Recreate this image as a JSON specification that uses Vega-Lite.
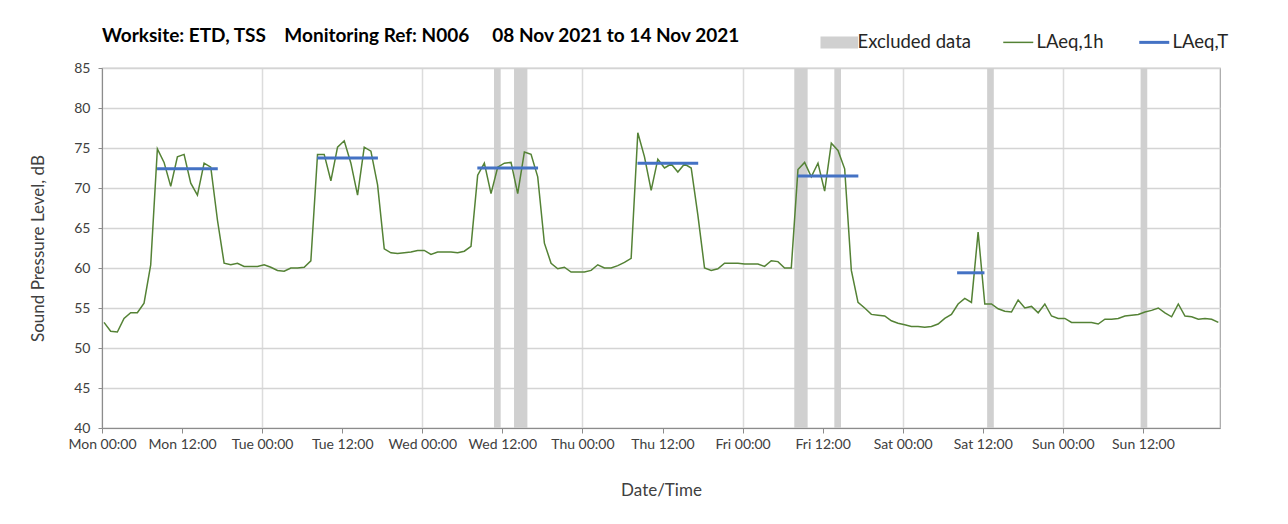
{
  "$schema": "https://vega.github.io/schema/vega-lite/v6.json",
  "autosize": "none",
  "width": 1118,
  "height": 360,
  "padding": {"left": 102, "top": 68, "right": 68, "bottom": 96},
  "background": "white",
  "config": {
    "font": "Lato",
    "view": {"stroke": "#a6a6a6", "strokeWidth": 1.2},
    "axis": {"labelFont": "Lato", "titleFont": "Lato", "labelColor": "#404040", "titleColor": "#404040", "titleFontWeight": "normal"}
  },
  "title": {
    "text": "Worksite: ETD, TSS\u00a0\u00a0\u00a0\u00a0Monitoring Ref: N006\u00a0\u00a0\u00a0\u00a0\u00a008 Nov 2021 to 14 Nov 2021",
    "anchor": "start",
    "frame": "group",
    "fontSize": 19,
    "fontWeight": "bold",
    "color": "#000000",
    "offset": 22,
    "dy": 35
  },
  "layer": [
    {
      "data": {"values": [
        {"start": 58.75, "end": 59.75},
        {"start": 61.75, "end": 63.75},
        {"start": 103.75, "end": 105.75},
        {"start": 109.75, "end": 110.75},
        {"start": 132.65, "end": 133.65},
        {"start": 155.65, "end": 156.65}
      ]},
      "mark": {"type": "rect"},
      "encoding": {
        "x": {"field": "start", "type": "quantitative",
          "title": "Date/Time",
          "scale": {"domain": [0, 167.55], "nice": false, "zero": false},
          "axis": {
            "values": [0, 12, 24, 36, 48, 60, 72, 84, 96, 108, 120, 132, 144, 156],
            "labelExpr": "['Mon','Tue','Wed','Thu','Fri','Sat','Sun','Mon'][floor(datum.value / 24)] + (datum.value % 24 == 0 ? ' 00:00' : ' 12:00')",
            "labelFontSize": 14,
            "labelPadding": 4,
            "labelFlush": false,
            "labelOverlap": false,
            "tickSize": 5,
            "tickColor": "#8c8c8c",
            "domainColor": "#8c8c8c",
            "grid": true,
            "gridColor": "#dcdcdc",
            "gridWidth": 1.5,
            "gridOpacity": {"condition": {"test": "datum.value % 24 == 0", "value": 1}, "value": 0},
            "titleFontSize": 17,
            "titleY": 62,
            "titleBaseline": "middle"
          }
        },
        "x2": {"field": "end"},
        "color": {
          "datum": "Excluded data",
          "type": "nominal",
          "scale": {"domain": ["Excluded data", "LAeq,1h", "LAeq,T"], "range": ["#d0d0d0", "#548235", "#4472c4"]},
          "legend": {
            "orient": "none",
            "legendX": 728,
            "legendY": -35,
            "direction": "horizontal",
            "title": null,
            "padding": 0,
            "symbolSize": 900,
            "labelOffset": 9,
            "columnPadding": 29,
            "labelFontSize": 18.5,
            "labelFont": "Lato",
            "labelColor": "#262626",
            "labelLimit": 300,
            "encode": {
              "symbols": {
                "update": {
                  "shape": {"signal": "datum.value === 'Excluded data' ? 'M-1.25,-0.4H1.25V0.4H-1.25Z' : 'stroke'"},
                  "fill": {"signal": "datum.value === 'Excluded data' ? '#d0d0d0' : 'transparent'"},
                  "stroke": {"signal": "datum.value === 'LAeq,T' ? '#4472c4' : (datum.value === 'LAeq,1h' ? '#548235' : '#d0d0d0')"},
                  "strokeWidth": {"signal": "datum.value === 'LAeq,T' ? 3 : (datum.value === 'LAeq,1h' ? 1.5 : 0)"},
                  "opacity": {"value": 1}
                }
              }
            }
          }
        }
      }
    },
    {
      "data": {"values": [
        {"h":0.3,"v":53.2},{"h":1.3,"v":52.1},{"h":2.3,"v":52.0},{"h":3.3,"v":53.7},{"h":4.3,"v":54.4},{"h":5.3,"v":54.4},{"h":6.3,"v":55.6},{"h":7.3,"v":60.4},{"h":8.3,"v":74.9},{"h":9.3,"v":73.2},{"h":10.3,"v":70.2},{"h":11.3,"v":73.9},{"h":12.3,"v":74.2},{"h":13.3,"v":70.6},{"h":14.3,"v":69.1},{"h":15.3,"v":73.1},{"h":16.3,"v":72.6},{"h":17.3,"v":66.0},{"h":18.3,"v":60.6},{"h":19.3,"v":60.4},{"h":20.3,"v":60.6},{"h":21.3,"v":60.2},{"h":22.3,"v":60.2},{"h":23.3,"v":60.2},
        {"h":24.3,"v":60.4},{"h":25.3,"v":60.1},{"h":26.3,"v":59.7},{"h":27.3,"v":59.6},{"h":28.3,"v":60.0},{"h":29.3,"v":60.0},{"h":30.3,"v":60.1},{"h":31.3,"v":60.9},{"h":32.3,"v":74.2},{"h":33.3,"v":74.2},{"h":34.3,"v":70.9},{"h":35.3,"v":75.1},{"h":36.3,"v":75.9},{"h":37.3,"v":73.1},{"h":38.3,"v":69.1},{"h":39.3,"v":75.1},{"h":40.3,"v":74.6},{"h":41.3,"v":70.4},{"h":42.3,"v":62.4},{"h":43.3,"v":61.9},{"h":44.3,"v":61.8},{"h":45.3,"v":61.9},{"h":46.3,"v":62.0},{"h":47.3,"v":62.2},
        {"h":48.3,"v":62.2},{"h":49.3,"v":61.7},{"h":50.3,"v":62.0},{"h":51.3,"v":62.0},{"h":52.3,"v":62.0},{"h":53.3,"v":61.9},{"h":54.3,"v":62.1},{"h":55.3,"v":62.7},{"h":56.3,"v":71.6},{"h":57.3,"v":73.1},{"h":58.3,"v":69.3},{"h":59.3,"v":72.6},{"h":60.3,"v":73.1},{"h":61.3,"v":73.2},{"h":62.3,"v":69.3},{"h":63.3,"v":74.5},{"h":64.3,"v":74.2},{"h":65.3,"v":71.4},{"h":66.3,"v":63.1},{"h":67.3,"v":60.6},{"h":68.3,"v":59.9},{"h":69.3,"v":60.1},{"h":70.3,"v":59.5},{"h":71.3,"v":59.5},
        {"h":72.3,"v":59.5},{"h":73.3,"v":59.7},{"h":74.3,"v":60.4},{"h":75.3,"v":60.0},{"h":76.3,"v":60.0},{"h":77.3,"v":60.3},{"h":78.3,"v":60.7},{"h":79.3,"v":61.2},{"h":80.3,"v":76.9},{"h":81.3,"v":73.9},{"h":82.3,"v":69.7},{"h":83.3,"v":73.6},{"h":84.3,"v":72.5},{"h":85.3,"v":73.0},{"h":86.3,"v":72.0},{"h":87.3,"v":73.0},{"h":88.3,"v":72.5},{"h":89.3,"v":66.6},{"h":90.3,"v":60.0},{"h":91.3,"v":59.7},{"h":92.3,"v":59.9},{"h":93.3,"v":60.6},{"h":94.3,"v":60.6},{"h":95.3,"v":60.6},
        {"h":96.3,"v":60.5},{"h":97.3,"v":60.5},{"h":98.3,"v":60.5},{"h":99.3,"v":60.2},{"h":100.3,"v":60.9},{"h":101.3,"v":60.8},{"h":102.3,"v":60.0},{"h":103.3,"v":60.0},{"h":104.3,"v":72.3},{"h":105.3,"v":73.2},{"h":106.3,"v":71.4},{"h":107.3,"v":73.1},{"h":108.3,"v":69.6},{"h":109.3,"v":75.6},{"h":110.3,"v":74.7},{"h":111.3,"v":72.4},{"h":112.3,"v":59.7},{"h":113.3,"v":55.7},{"h":114.3,"v":55.0},{"h":115.3,"v":54.2},{"h":116.3,"v":54.1},{"h":117.3,"v":54.0},{"h":118.3,"v":53.4},{"h":119.3,"v":53.1},
        {"h":120.3,"v":52.9},{"h":121.3,"v":52.7},{"h":122.3,"v":52.7},{"h":123.3,"v":52.6},{"h":124.3,"v":52.7},{"h":125.3,"v":53.0},{"h":126.3,"v":53.7},{"h":127.3,"v":54.2},{"h":128.3,"v":55.5},{"h":129.3,"v":56.2},{"h":130.3,"v":55.7},{"h":131.3,"v":64.5},{"h":132.3,"v":55.5},{"h":133.3,"v":55.5},{"h":134.3,"v":54.9},{"h":135.3,"v":54.6},{"h":136.3,"v":54.5},{"h":137.3,"v":56.0},{"h":138.3,"v":55.0},{"h":139.3,"v":55.2},{"h":140.3,"v":54.4},{"h":141.3,"v":55.5},{"h":142.3,"v":54.0},{"h":143.3,"v":53.7},
        {"h":144.3,"v":53.7},{"h":145.3,"v":53.2},{"h":146.3,"v":53.2},{"h":147.3,"v":53.2},{"h":148.3,"v":53.2},{"h":149.3,"v":53.0},{"h":150.3,"v":53.6},{"h":151.3,"v":53.6},{"h":152.3,"v":53.7},{"h":153.3,"v":54.0},{"h":154.3,"v":54.1},{"h":155.3,"v":54.2},{"h":156.3,"v":54.5},{"h":157.3,"v":54.7},{"h":158.3,"v":55.0},{"h":159.3,"v":54.4},{"h":160.3,"v":53.9},{"h":161.3,"v":55.5},{"h":162.3,"v":54.0},{"h":163.3,"v":53.9},{"h":164.3,"v":53.6},{"h":165.3,"v":53.7},{"h":166.3,"v":53.6},{"h":167.3,"v":53.2}
      ]},
      "mark": {"type": "line", "strokeWidth": 1.5},
      "encoding": {
        "x": {"field": "h", "type": "quantitative"},
        "y": {
          "field": "v",
          "type": "quantitative",
          "title": "Sound Pressure Level, dB",
          "scale": {"domain": [40, 85], "nice": false},
          "axis": {
            "values": [40, 45, 50, 55, 60, 65, 70, 75, 80, 85],
            "labelFontSize": 14,
            "labelPadding": 8,
            "tickSize": 4,
            "tickColor": "#8c8c8c",
            "domainColor": "#8c8c8c",
            "gridColor": "#d4d4d4",
            "gridWidth": 1.5,
            "titleFontSize": 17,
            "titlePadding": 26
          }
        },
        "color": {"datum": "LAeq,1h", "type": "nominal"}
      }
    },
    {
      "data": {"values": [
        {"start": 8.25, "end": 17.35, "v": 72.4},
        {"start": 32.25, "end": 41.35, "v": 73.75},
        {"start": 56.25, "end": 65.35, "v": 72.5},
        {"start": 80.25, "end": 89.35, "v": 73.1},
        {"start": 104.25, "end": 113.35, "v": 71.5},
        {"start": 128.15, "end": 132.25, "v": 59.4}
      ]},
      "mark": {"type": "rule", "strokeWidth": 3},
      "encoding": {
        "x": {"field": "start", "type": "quantitative"},
        "x2": {"field": "end"},
        "y": {
          "field": "v",
          "type": "quantitative",
          "title": "Sound Pressure Level, dB",
          "scale": {"domain": [40, 85], "nice": false},
          "axis": {
            "values": [40, 45, 50, 55, 60, 65, 70, 75, 80, 85],
            "labelFontSize": 14,
            "labelPadding": 8,
            "tickSize": 4,
            "tickColor": "#8c8c8c",
            "domainColor": "#8c8c8c",
            "gridColor": "#d4d4d4",
            "gridWidth": 1.5,
            "titleFontSize": 17,
            "titlePadding": 26
          }
        },
        "color": {"datum": "LAeq,T", "type": "nominal"}
      }
    }
  ]
}
